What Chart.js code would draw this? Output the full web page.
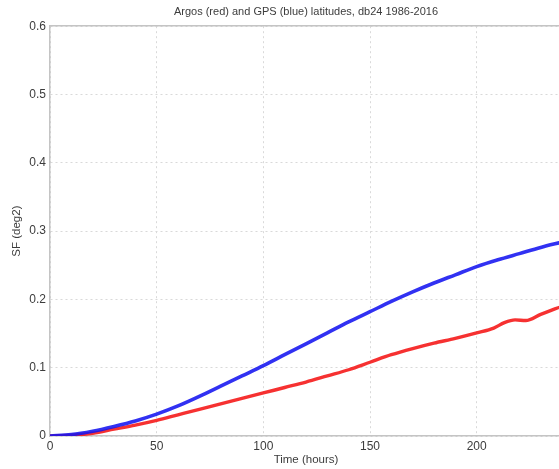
<!DOCTYPE html>
<html>
<head>
<meta charset="utf-8">
<script src="https://cdn.jsdelivr.net/npm/chart.js@4.4.1/dist/chart.umd.min.js"></script>
<style>
  html, body { margin: 0; padding: 0; background: #fff; overflow: hidden; }
  #wrap { width: 570px; height: 469px; position: relative; }
</style>
</head>
<body>
<div id="wrap"><canvas id="c" width="570" height="469"></canvas></div>
<script>
// ---- data ----
const chartTitle = 'Argos (red) and GPS (blue) latitudes, db24 1986-2016';
const xTitle = 'Time (hours)';
const yTitle = 'SF (deg2)';

const gpsTimes  = [0, 10, 20, 30, 40, 50, 60, 70, 80, 90, 100, 110, 120, 130, 140, 150, 160, 170, 180, 190, 200, 210, 220, 230, 240];
const gpsSF     = [0, 0.002, 0.007, 0.014, 0.022, 0.032, 0.044, 0.058, 0.073, 0.088, 0.103, 0.119, 0.135, 0.151, 0.167, 0.182, 0.197, 0.211, 0.224, 0.236, 0.248, 0.258, 0.267, 0.276, 0.284];

const argosTimes = [0, 10, 20, 30, 40, 50, 60, 70, 80, 90, 100, 110, 120, 130, 140, 150, 160, 170, 180, 190, 200, 208, 213, 218, 223, 230, 240];
const argosSF    = [0, 0.001, 0.004, 0.010, 0.016, 0.023, 0.031, 0.039, 0.047, 0.055, 0.063, 0.071, 0.079, 0.088, 0.097, 0.108, 0.119, 0.128, 0.136, 0.143, 0.151, 0.158, 0.166, 0.170, 0.169, 0.178, 0.190];

const xTicks = [0, 50, 100, 150, 200];
const yTicks = [0, 0.1, 0.2, 0.3, 0.4, 0.5, 0.6];

const toPts = (xs, ys) => xs.map((x, i) => ({ x: x, y: ys[i] }));

const textColor = '#3c3c3c';
const gridColor = '#d9d9d9';
const axisColor = '#c4c4c4';
const fontFam = '"Liberation Sans", Arial, sans-serif';

new Chart(document.getElementById('c'), {
  type: 'line',
  data: {
    datasets: [
      {
        label: 'GPS',
        data: toPts(gpsTimes, gpsSF),
        borderColor: 'rgba(20,20,240,0.88)',
        borderWidth: 3.6,
        pointRadius: 0,
        cubicInterpolationMode: 'monotone',
        fill: false
      },
      {
        label: 'Argos',
        data: toPts(argosTimes, argosSF),
        borderColor: 'rgba(245,20,20,0.88)',
        borderWidth: 3.4,
        pointRadius: 0,
        cubicInterpolationMode: 'monotone',
        fill: false
      }
    ]
  },
  options: {
    responsive: false,
    animation: false,
    layout: { padding: { left: 0, right: 8, top: 0, bottom: 0 } },
    plugins: {
      legend: { display: false },
      tooltip: { enabled: false },
      title: {
        display: true,
        text: chartTitle,
        fullSize: false,
        color: textColor,
        font: { family: fontFam, size: 11, weight: 'normal' },
        padding: { top: 5, bottom: 8 }
      }
    },
    scales: {
      x: {
        type: 'linear',
        min: 0,
        max: 240,
        afterBuildTicks: (s) => { s.ticks = xTicks.map(v => ({ value: v })); },
        afterFit: (s) => { s.height = 33; },
        grid: {
          color: gridColor,
          lineWidth: 1,
          drawTicks: false
        },
        border: { display: true, color: axisColor, width: 1.5, dash: [2, 3] },
        ticks: {
          color: textColor,
          padding: 3,
          maxRotation: 0,
          font: { family: fontFam, size: 12 }
        },
        title: {
          display: true,
          text: xTitle,
          color: textColor,
          font: { family: fontFam, size: 11.5 },
          padding: { top: 0, bottom: 2 }
        }
      },
      xTop: {
        type: 'linear',
        position: 'top',
        min: 0,
        max: 240,
        afterBuildTicks: (s) => { s.ticks = []; },
        afterFit: (s) => { s.height = 0; },
        grid: { drawOnChartArea: false, drawTicks: false },
        border: { display: true, color: axisColor, width: 1.5 },
        ticks: { display: false }
      },
      y: {
        type: 'linear',
        min: 0,
        max: 0.6,
        afterBuildTicks: (s) => { s.ticks = yTicks.map(v => ({ value: v })); },
        afterFit: (s) => { s.width = 50; },
        grid: {
          color: gridColor,
          lineWidth: 1,
          drawTicks: false
        },
        border: { display: true, color: axisColor, width: 1.5, dash: [2, 3] },
        ticks: {
          color: textColor,
          padding: 4,
          font: { family: fontFam, size: 12 },
          callback: (v) => String(Math.round(v * 10) / 10)
        },
        title: {
          display: true,
          text: yTitle,
          color: textColor,
          font: { family: fontFam, size: 11.5 },
          padding: { top: 10, bottom: 0 }
        }
      }
    }
  }
});
</script>
</body>
</html>
